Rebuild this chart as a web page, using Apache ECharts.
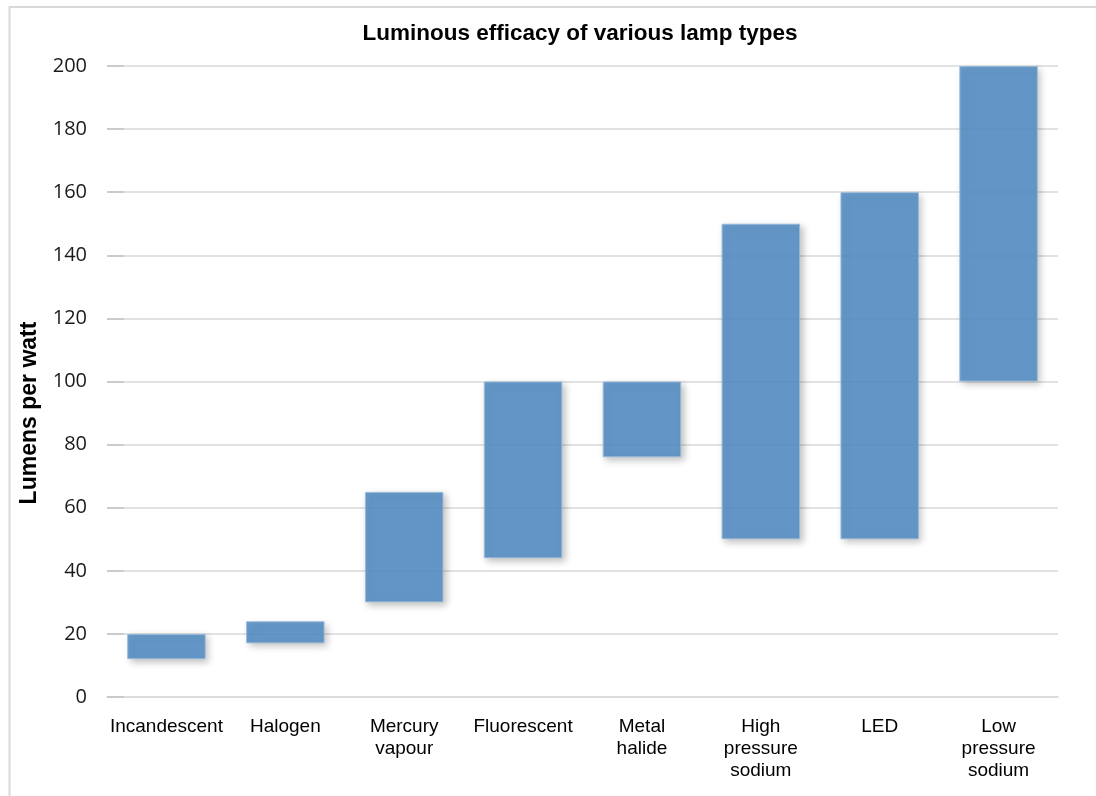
<!DOCTYPE html>
<html>
<head>
<meta charset="utf-8">
<script src="https://cdn.jsdelivr.net/npm/echarts@6/dist/echarts.min.js"></script>
<style>
html,body{margin:0;padding:0;background:#fff;}
#chart{width:1096px;height:796px;}
</style>
</head>
<body>
<div id="chart"></div>
<script>
const categories = ["Incandescent", "Halogen", "Mercury\nvapour", "Fluorescent", "Metal\nhalide", "High\npressure\nsodium", "LED", "Low\npressure\nsodium"];
const lowValues  = [12, 17, 30, 44, 76, 50, 50, 100];
const highValues = [20, 24, 65, 100, 100, 150, 160, 200];
const yTicks = [0, 20, 40, 60, 80, 100, 120, 140, 160, 180, 200];
const yAxisTitle = 'Lumens per watt';

const rangeValues = highValues.map((h, i) => h - lowValues[i]);

const chart = echarts.init(document.getElementById('chart'), null, {renderer: 'canvas'});
chart.setOption({
  backgroundColor: '#fff',
  animation: false,
  title: {
    text: 'Luminous efficacy of various lamp types',
    left: 575,
    textAlign: 'center',
    top: 17,
    textStyle: {fontFamily: 'Liberation Sans, Arial, sans-serif', fontSize: 22.5, fontWeight: 'bold', color: '#000'}
  },
  graphic: [{
    type: 'rect',
    shape: {x: 9.5, y: 7, width: 1300, height: 1000},
    style: {fill: 'none', stroke: '#d9d9d9', lineWidth: 2},
    silent: true,
    z: 0
  }, {
    type: 'text',
    x: 30,
    y: 413,
    rotation: Math.PI / 2,
    style: {
      text: yAxisTitle,
      fontFamily: 'Liberation Sans, Arial, sans-serif',
      fontSize: 23,
      fontWeight: 'bold',
      fill: '#000',
      align: 'center',
      verticalAlign: 'middle'
    },
    silent: true
  }],
  grid: {left: 107, right: 38, top: 66, bottom: 99, containLabel: false},
  xAxis: {
    type: 'category',
    data: categories,
    axisLine: {show: true, lineStyle: {color: '#d9d9d9', width: 1.5}},
    axisTick: {show: false},
    axisLabel: {
      interval: 0,
      margin: 19,
      fontFamily: 'Liberation Sans, Arial, sans-serif',
      fontSize: 19,
      lineHeight: 22,
      color: '#000',
      verticalAlign: 'top'
    }
  },
  yAxis: {
    type: 'value',
    min: 0,
    max: yTicks[yTicks.length - 1],
    interval: yTicks[1] - yTicks[0],
    axisLine: {show: false},
    axisTick: {show: true, inside: true, length: 17, lineStyle: {color: '#c4c4c4', width: 1.5}},
    axisLabel: {
      margin: 20,
      fontFamily: 'Open Sans, sans-serif',
      fontSize: 20,
      color: '#1a1a1a'
    },
    splitLine: {show: true, lineStyle: {color: '#d9d9d9', width: 1.5}}
  },
  series: [
    {
      type: 'bar',
      stack: 'range',
      data: lowValues,
      barWidth: '66%',
      itemStyle: {color: 'rgba(0,0,0,0)'},
      silent: true
    },
    {
      type: 'bar',
      stack: 'range',
      data: rangeValues,
      barWidth: '66%',
      itemStyle: {
        color: 'rgba(88,144,197,0.9)',
        borderColor: 'rgba(150,185,220,0.9)',
        borderWidth: 1,
        shadowBlur: 7,
        shadowOffsetX: 3,
        shadowOffsetY: 3,
        shadowColor: 'rgba(0,0,0,0.25)'
      }
    }
  ]
});
</script>
</body>
</html>
